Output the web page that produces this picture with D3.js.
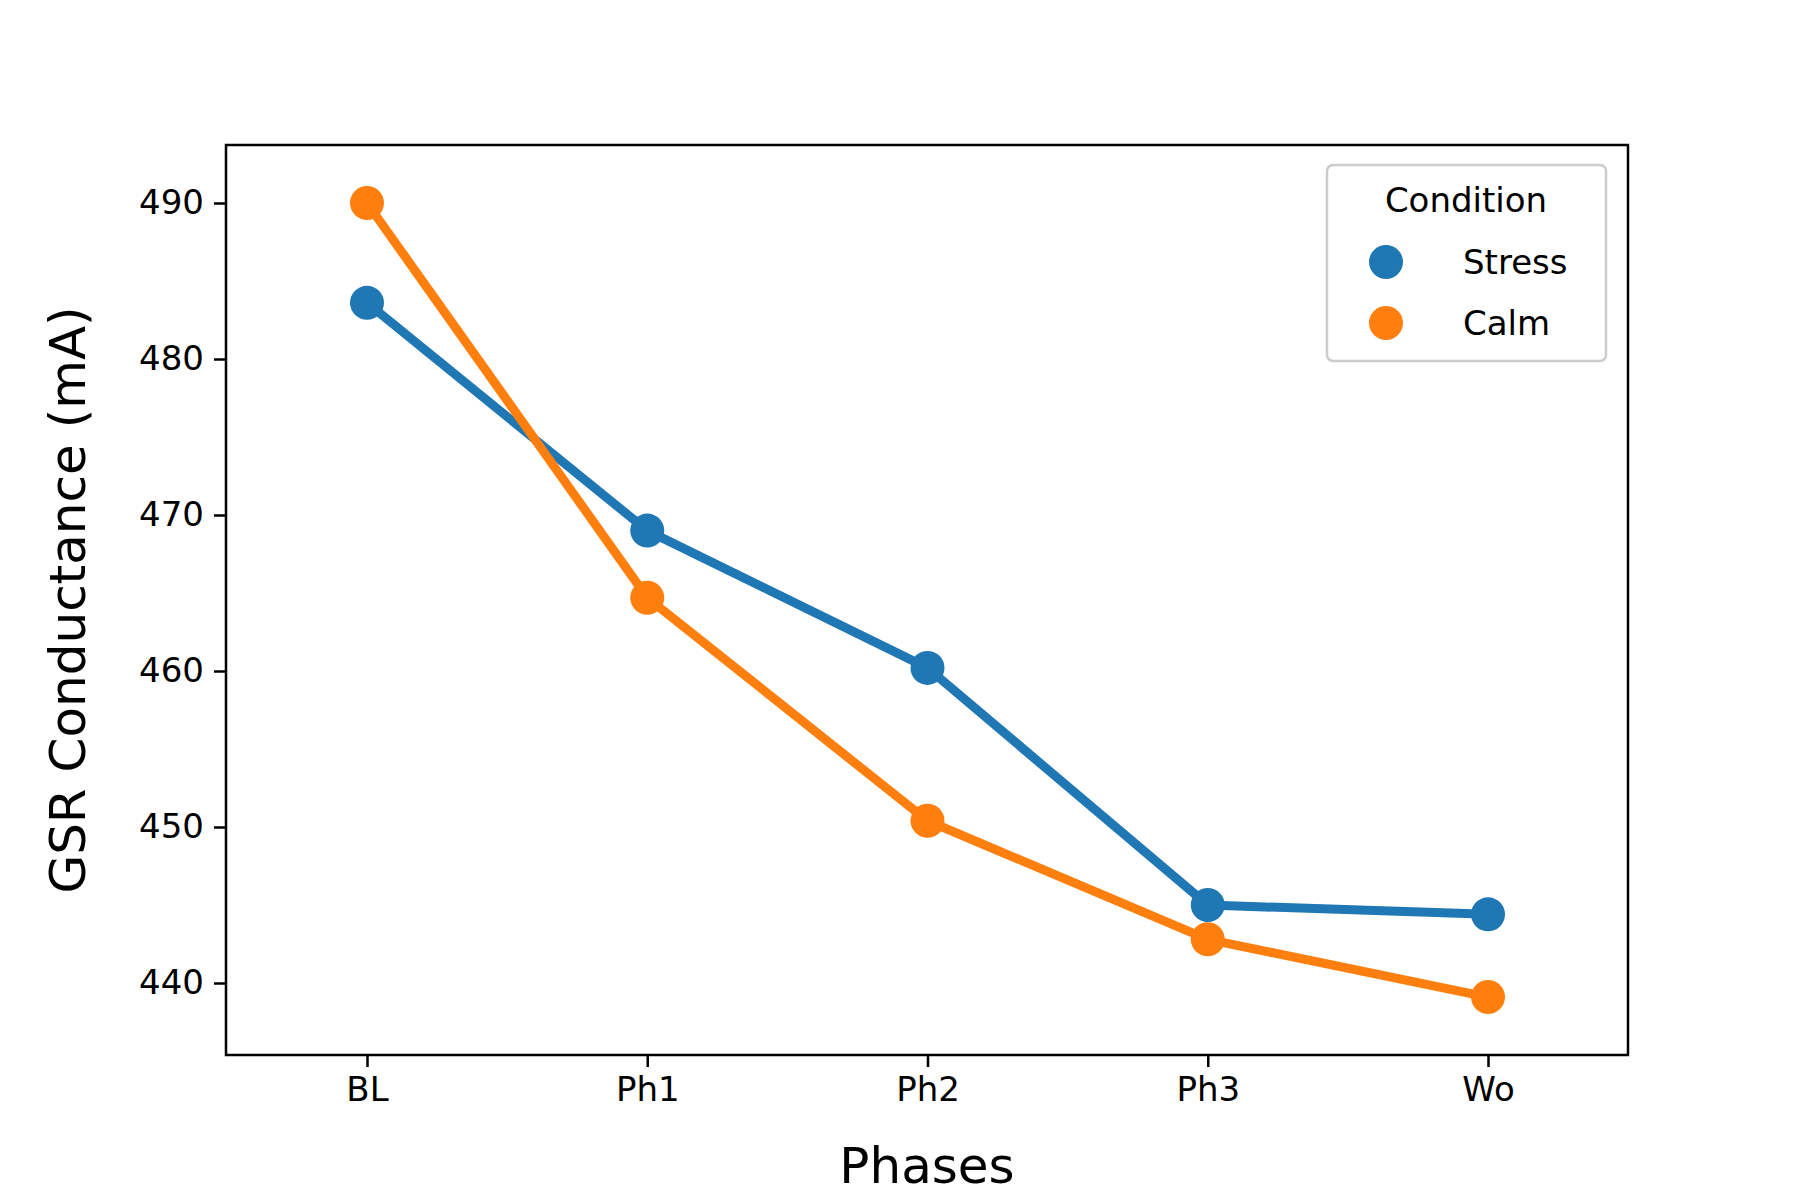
<!DOCTYPE html>
<html><head><meta charset="utf-8">
<script src="https://cdn.jsdelivr.net/npm/d3@7"></script>
<style>body{margin:0;background:#fff}text{font-family:"DejaVu Sans",sans-serif}</style>
</head><body><svg id="c" width="1800" height="1200"></svg>
<script>
var phases = ["BL","Ph1","Ph2","Ph3","Wo"];
var stress = [483.6, 469.0, 460.2, 445.0, 444.4];
var calm = [490.0, 464.7, 450.4, 442.8, 439.1];
var stressErr = [0.6, 0.7, 0.8, 0.9, 0.9];
var calmErr = [1.0, 0.9, 0.9, 1.0, 1.0];
var yTicks = [440,450,460,470,480,490];

var svg = d3.select("#c");
var L=226, R=1628, T=145, B=1055;
var x = d3.scalePoint().domain(phases).range([367,1488]);
var y = d3.scaleLinear().domain([440,490]).range([983,203]);

svg.append("g").attr("transform","translate(0,"+B+")")
  .call(d3.axisBottom(x).tickSize(12).tickPadding(10))
  .call(g=>{g.select(".domain").remove();g.selectAll("line").attr("stroke-width",2.5);g.selectAll("text").attr("font-size",34).attr("fill","#000").attr("font-family","DejaVu Sans");});
svg.append("g").attr("transform","translate("+L+",0)")
  .call(d3.axisLeft(y).tickValues(yTicks).tickSize(12).tickPadding(10))
  .call(g=>{g.select(".domain").remove();g.selectAll("line").attr("stroke-width",2.5);g.selectAll("text").attr("font-size",34).attr("fill","#000").attr("font-family","DejaVu Sans");});

var series=[{name:"Stress",v:stress,e:stressErr,c:"#1f77b4"},{name:"Calm",v:calm,e:calmErr,c:"#ff7f0e"}];
var line=d3.line().x((d,i)=>x(phases[i])).y(d=>y(d));
series.forEach(s=>{
  var g=svg.append("g");
  g.append("path").attr("d",line(s.v)).attr("fill","none").attr("stroke",s.c).attr("stroke-width",9).attr("stroke-linejoin","round");
  g.selectAll("line.e").data(s.v).enter().append("line")
    .attr("x1",(d,i)=>x(phases[i])).attr("x2",(d,i)=>x(phases[i]))
    .attr("y1",(d,i)=>y(d-s.e[i])).attr("y2",(d,i)=>y(d+s.e[i]))
    .attr("stroke",s.c).attr("stroke-width",6);
  g.selectAll("circle").data(s.v).enter().append("circle")
    .attr("cx",(d,i)=>x(phases[i])).attr("cy",d=>y(d)).attr("r",17).attr("fill",s.c);
});

svg.append("rect").attr("x",L).attr("y",T).attr("width",R-L).attr("height",B-T)
  .attr("fill","none").attr("stroke","#000").attr("stroke-width",2.5);

svg.append("text").attr("x",(L+R)/2).attr("y",1183).attr("text-anchor","middle").attr("font-size",50).text("Phases");
svg.append("text").attr("transform","translate(85,"+((T+B)/2)+") rotate(-90)").attr("text-anchor","middle").attr("font-size",50).text("GSR Conductance (mA)");

var lg=svg.append("g");
lg.append("rect").attr("x",1327).attr("y",165).attr("width",279).attr("height",196).attr("rx",6)
  .attr("fill","#fff").attr("stroke","#ccc").attr("stroke-width",2.5);
lg.append("text").attr("x",1466).attr("y",212).attr("text-anchor","middle").attr("font-size",34).text("Condition");
series.forEach((s,i)=>{
  var yy=262+i*61;
  lg.append("circle").attr("cx",1386).attr("cy",yy).attr("r",17).attr("fill",s.c);
  lg.append("text").attr("x",1463).attr("y",yy+12).attr("font-size",34).text(s.name);
});
</script></body></html>
